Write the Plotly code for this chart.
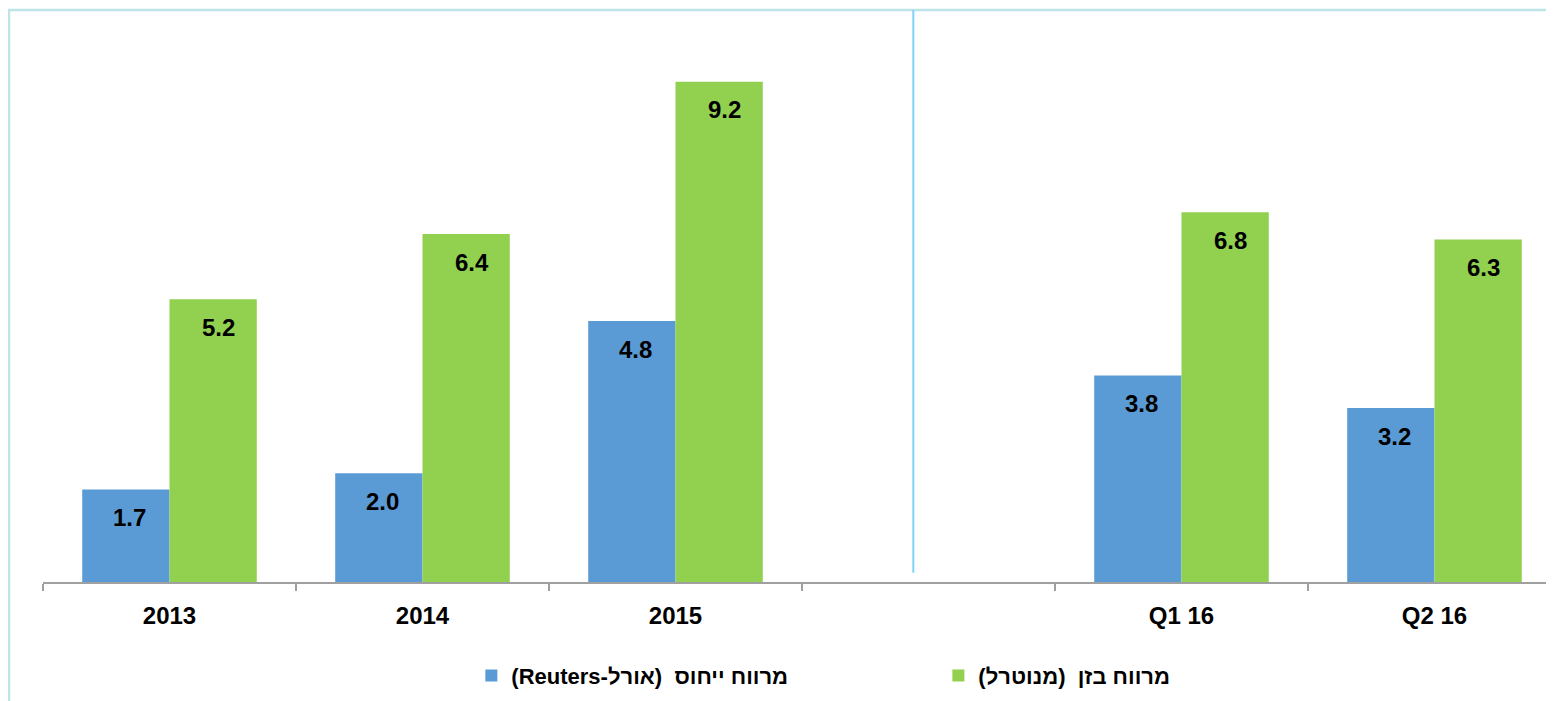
import plotly.graph_objects as go

categories = ["2013", "2014", "2015", " ", "Q1 16", "Q2 16"]
reuters_spread = [1.7, 2.0, 4.8, None, 3.8, 3.2]
bazan_spread = [5.2, 6.4, 9.2, None, 6.8, 6.3]
series_names = ["\u202bמרווח ייחוס\u00a0 (אורל-Reuters)\u202c", "\u202bמרווח בזן\u00a0 (מנוטרל)\u202c"]
series_colors = ["#5B9BD5", "#92D050"]

FONT = "Liberation Sans, Arial, sans-serif"

fig = go.Figure()
for vals, name, col in zip([reuters_spread, bazan_spread], series_names, series_colors):
    fig.add_trace(go.Bar(
        x=categories, y=vals, name=name,
        marker=dict(color=col, line=dict(width=0)),
    ))

annotations = []
for vals, xs in zip([reuters_spread, bazan_spread], [-40, 49]):
    for i, v in enumerate(vals):
        if v is None:
            continue
        annotations.append(dict(
            x=i, y=v, xref="x", yref="y", text=f"{v:.1f}", showarrow=False,
            xanchor="center", yanchor="middle", xshift=xs, yshift=-28,
            font=dict(family=FONT, size=24, color="black", weight="bold"),
        ))

fig.update_layout(
    width=1554, height=701,
    margin=dict(l=35, r=0, t=2, b=127),
    paper_bgcolor="white", plot_bgcolor="white",
    barmode="group", bargap=0.31, bargroupgap=0,
    font=dict(family=FONT, color="black"),
    showlegend=True,
    legend=dict(
        orientation="h", x=0.282, xanchor="left", y=-0.164, yanchor="middle",
        font=dict(family=FONT, size=22, color="black", weight="bold"),
        entrywidth=422, itemwidth=30, traceorder="normal",
        bgcolor="rgba(0,0,0,0)",
    ),
    xaxis=dict(
        type="category", range=[-0.5, 5.504],
        showline=True, linecolor="#A0A0A0", linewidth=2,
        ticks="outside", tickson="boundaries", ticklen=7, tickcolor="#A0A0A0", tickwidth=2,
        tickfont=dict(family=FONT, size=24, color="black", weight="bold"),
        ticklabelstandoff=11,
        showgrid=False, zeroline=False,
    ),
    yaxis=dict(
        range=[0, 10.52], visible=False, showgrid=False, zeroline=False,
    ),
    annotations=annotations,
    shapes=[
        dict(type="rect", xref="paper", yref="paper",
             x0=-0.0224, x1=1.05, y0=-0.4, y1=1.0,
             line=dict(color="#BFE4E8", width=2.5), fillcolor="rgba(0,0,0,0)", layer="below"),
        dict(type="line", xref="x", yref="paper",
             x0=2.94, x1=2.94, y0=0.016, y1=1.0,
             line=dict(color="#7FD4FA", width=2)),
    ],
)

fig.write_html("out.html")
